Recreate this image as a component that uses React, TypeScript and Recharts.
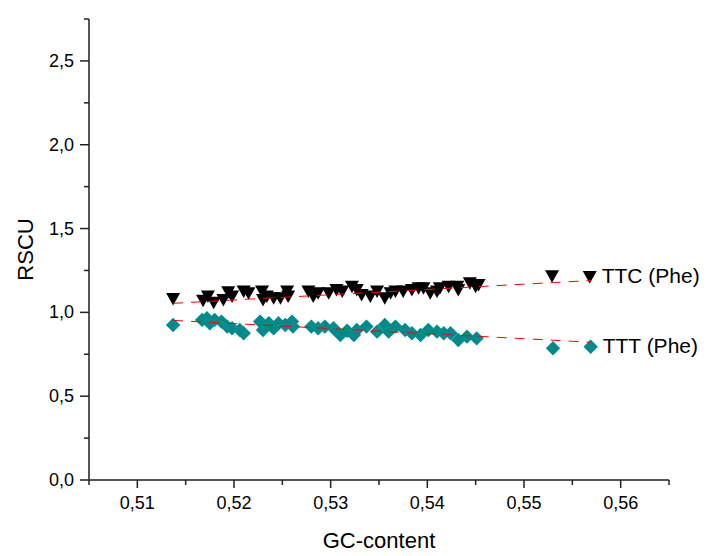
import { ScatterChart, Scatter, XAxis, YAxis } from "recharts"

const ttcGC = [
  0.5137, 0.5168, 0.5173, 0.5179, 0.5189, 0.5194, 0.5198, 0.521, 0.5215, 0.5229, 0.523, 0.5234, 0.5241, 0.5248, 0.5255,
  0.5256, 0.5277, 0.5282, 0.5287, 0.5298, 0.5306, 0.5312, 0.5322, 0.5327, 0.5332, 0.5341, 0.5348, 0.5356, 0.5362,
  0.5367, 0.5375, 0.5384, 0.5391, 0.5396, 0.5403, 0.541, 0.5413, 0.5422, 0.5431, 0.5432, 0.5444, 0.545, 0.5453, 0.5529,
  0.5568,
]
const ttcRSCU = [
  1.08, 1.07, 1.094, 1.058, 1.074, 1.12, 1.094, 1.124, 1.114, 1.124, 1.074, 1.094, 1.084, 1.084, 1.124, 1.094, 1.124,
  1.094, 1.114, 1.114, 1.134, 1.124, 1.153, 1.134, 1.104, 1.094, 1.124, 1.084, 1.114, 1.124, 1.124, 1.134, 1.144, 1.144,
  1.114, 1.124, 1.144, 1.153, 1.153, 1.134, 1.174, 1.153, 1.163, 1.215, 1.211,
]

const tttGC = [
  0.5137, 0.5167, 0.5172, 0.5175, 0.518, 0.5187, 0.5193, 0.5198, 0.5206, 0.521, 0.5227, 0.523, 0.5236, 0.5241, 0.5246,
  0.5253, 0.526, 0.5261, 0.528, 0.5287, 0.5294, 0.5303, 0.531, 0.5317, 0.5324, 0.5327, 0.5337, 0.5348, 0.5356, 0.536,
  0.5367, 0.5377, 0.5384, 0.5393, 0.5401, 0.541, 0.5417, 0.5424, 0.5432, 0.5441, 0.5451, 0.553, 0.5569,
]
const tttRSCU = [
  0.925, 0.955, 0.965, 0.935, 0.955, 0.945, 0.915, 0.905, 0.895, 0.875, 0.945, 0.895, 0.935, 0.905, 0.935, 0.925, 0.945,
  0.915, 0.915, 0.905, 0.915, 0.905, 0.865, 0.89, 0.865, 0.895, 0.915, 0.885, 0.925, 0.885, 0.915, 0.895, 0.875, 0.865,
  0.895, 0.885, 0.875, 0.875, 0.835, 0.855, 0.845, 0.786, 0.795,
]

// fitted lines, end points
const ttcFitGC = [0.5137, 0.5569]
const ttcFitRSCU = [1.054, 1.19]
const tttFitGC = [0.5137, 0.5569]
const tttFitRSCU = [0.952, 0.822]

const seriesNames = ["TTC (Phe)", "TTT (Phe)"]

const xTicks = [0.505, 0.51, 0.515, 0.52, 0.525, 0.53, 0.535, 0.54, 0.545, 0.55, 0.555, 0.56, 0.565]
const yTicks = [0, 0.25, 0.5, 0.75, 1, 1.25, 1.5, 1.75, 2, 2.25, 2.5, 2.75]

const toPoints = (xs: number[], ys: number[]) => xs.map((x, i) => ({ x, y: ys[i] }))

const ttc = toPoints(ttcGC, ttcRSCU)
const ttt = toPoints(tttGC, tttRSCU)
const ttcFit = toPoints(ttcFitGC, ttcFitRSCU)
const tttFit = toPoints(tttFitGC, tttFitRSCU)
const ttcLabel = [{ ...ttc[ttc.length - 1], name: seriesNames[0] }]
const tttLabel = [{ ...ttt[ttt.length - 1], name: seriesNames[1] }]

const FONT = "'Liberation Sans', Arial, sans-serif"
const TEAL = "#008b8b"

const TriangleDown = (props: any) => {
  const { cx, cy } = props
  return <polygon points={`${cx - 7},${cy - 6} ${cx + 7},${cy - 6} ${cx},${cy + 6.5}`} fill="#000" />
}

const Diamond = (props: any) => {
  const { cx, cy } = props
  return <polygon points={`${cx},${cy - 7.2} ${cx + 7.2},${cy} ${cx},${cy + 7.2} ${cx - 7.2},${cy}`} fill={TEAL} />
}

const NoShape = () => <g />

const SeriesLabel = (props: any) => {
  const { cx, cy, payload } = props
  return (
    <text x={cx + 12} y={cy - 1} dominantBaseline="central" fontSize={21} fontFamily={FONT} fill="#000">
      {payload.name}
    </text>
  )
}

const isMajor = (v: number, step: number) => Math.abs(v / step - Math.round(v / step)) < 1e-6

const XTick = (props: any) => {
  const { x, y, payload } = props
  const major = isMajor(payload.value, 0.01)
  return (
    <g>
      <line x1={x} y1={y} x2={x} y2={y + (major ? 8 : 5)} stroke="#222" strokeWidth={1.5} />
      {major && (
        <text x={x} y={y + 29} textAnchor="middle" fontSize={18} fontFamily={FONT} fill="#000">
          {payload.value.toFixed(2).replace(".", ",")}
        </text>
      )}
    </g>
  )
}

const YTick = (props: any) => {
  const { x, y, payload } = props
  const major = isMajor(payload.value, 0.5)
  return (
    <g>
      <line x1={x} y1={y} x2={x - (major ? 9 : 5)} y2={y} stroke="#222" strokeWidth={1.5} />
      {major && (
        <text x={x - 15} y={y} textAnchor="end" dominantBaseline="central" fontSize={18} fontFamily={FONT} fill="#000">
          {payload.value.toFixed(1).replace(".", ",")}
        </text>
      )}
    </g>
  )
}

export default function App() {
  return (
    <div style={{ position: "absolute", left: 0, top: 0, background: "#fff" }}>
      <ScatterChart width={707} height={556} margin={{ top: 19, right: 38, left: 0, bottom: 0 }}>
        <XAxis
          type="number"
          dataKey="x"
          domain={[0.505, 0.565]}
          ticks={xTicks}
          interval={0}
          height={76}
          tickSize={0}
          tickMargin={0}
          tick={<XTick />}
          axisLine={{ stroke: "#555", strokeWidth: 2 }}
          label={{ value: "GC-content", position: "insideBottom", offset: 8, fontSize: 22, fontFamily: FONT, fill: "#000" }}
        />
        <YAxis
          type="number"
          dataKey="y"
          domain={[0, 2.75]}
          ticks={yTicks}
          interval={0}
          width={89}
          tickSize={0}
          tickMargin={0}
          tick={<YTick />}
          axisLine={{ stroke: "#555", strokeWidth: 2 }}
          label={{ value: "RSCU", angle: -90, position: "insideLeft", offset: 25, fontSize: 22, fontFamily: FONT, fill: "#000", style: { textAnchor: "middle" } }}
        />
        <Scatter data={ttc} shape={<TriangleDown />} isAnimationActive={false} />
        <Scatter data={ttt} shape={<Diamond />} isAnimationActive={false} />
        <Scatter
          data={ttcFit}
          shape={<NoShape />}
          line={{ stroke: "#ff0000", strokeWidth: 1, strokeDasharray: "10 8" }}
          isAnimationActive={false}
        />
        <Scatter
          data={tttFit}
          shape={<NoShape />}
          line={{ stroke: "#ff0000", strokeWidth: 1, strokeDasharray: "10 8" }}
          isAnimationActive={false}
        />
        <Scatter data={ttcLabel} shape={<SeriesLabel />} isAnimationActive={false} />
        <Scatter data={tttLabel} shape={<SeriesLabel />} isAnimationActive={false} />
      </ScatterChart>
    </div>
  )
}
